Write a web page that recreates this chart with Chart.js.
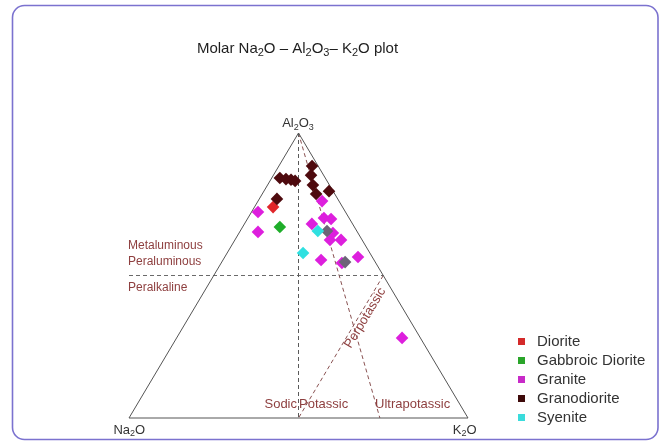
<!DOCTYPE html>
<html>
<head>
<meta charset="utf-8">
<script src="https://cdn.jsdelivr.net/npm/chart.js@4"></script>
<style>
  html, body { margin: 0; padding: 0; background: #fff; }
  #wrap { width: 666px; height: 442px; position: relative; }
</style>
</head>
<body>
<div id="wrap"><canvas id="c" width="666" height="442"></canvas></div>
<script>
// Rock groups shown in the legend
const categories = ['Diorite', 'Gabbroic Diorite', 'Granite', 'Granodiorite', 'Syenite'];

// Molar proportions, each sample as [Na2O, Al2O3, K2O] in %
const diorite = [[20.5, 74.0, 5.5]];
const gabbroicDiorite = [[22.0, 67.0, 11.0]];
const granite = [
  [25.8, 72.3, 1.9], [29.3, 65.3, 5.4], [5.0, 76.1, 18.9], [7.4, 70.2, 22.4],
  [5.5, 69.8, 24.7], [12.0, 68.1, 19.9], [9.5, 62.5, 28.1], [6.2, 62.5, 31.3],
  [7.4, 64.9, 27.7], [15.6, 55.4, 28.9], [10.0, 54.4, 35.6], [4.2, 56.5, 39.3],
  [5.4, 28.1, 66.5]
];
const granodiorite = [
  [13.4, 84.2, 2.4], [11.8, 83.9, 4.4], [10.4, 83.5, 6.0], [9.4, 83.2, 7.4],
  [1.8, 88.4, 9.8], [3.7, 85.3, 11.1], [4.9, 81.8, 13.4], [5.5, 78.6, 15.9],
  [1.2, 79.6, 19.2], [17.9, 76.8, 5.2], [8.8, 65.6, 25.6], [8.9, 54.7, 36.4]
];
// overlapping granodiorite samples that render with a greyish tint
const granodioriteGrey = [false, false, false, false, false, false, false, false, false, false, true, true];
const syenite = [[11.5, 65.6, 22.9], [19.7, 57.9, 22.4]];

// Classification boundaries, endpoints as [Na2O, Al2O3, K2O] in %
const naEqualsK = [[0, 100, 0], [50, 0, 50]];          // Sodic | Potassic
const alEqualsNaK = [[75, 50, -25], [0, 50, 50]];      // Metaluminous-Peraluminous | Peralkaline
const ultrapotassic = [[0, 100, 0], [26, 0, 74]];
const perpotassic = [[0, 50, 50], [50, 0, 50]];
const frame = [[100, 0, 0], [0, 0, 100], [0, 100, 0], [100, 0, 0]];

// ternary -> cartesian: x along the Na2O-K2O base, y = Al2O3 fraction
function toXY(t) {
  const s = t[0] + t[1] + t[2];
  const al = t[1] / s, k = t[2] / s;
  return { x: k + al / 2, y: al };
}

const colors = {
  'Diorite': '#e0262a',
  'Gabbroic Diorite': '#1fae2a',
  'Granite': '#dd1fdd',
  'Granodiorite': '#4e0a0e',
  'Syenite': '#2fe0e0'
};
const legendColors = {
  'Diorite': '#d42a2a',
  'Gabbroic Diorite': '#2aa52a',
  'Granite': '#c82ac8',
  'Granodiorite': '#3e0a0a',
  'Syenite': '#3adcdc'
};

const samples = [diorite, gabbroicDiorite, granite, granodiorite, syenite];

function lineSet(pts, color, dash, width) {
  return {
    type: 'line', data: pts.map(toXY), borderColor: color, borderWidth: width || 1,
    borderDash: dash, pointRadius: 0, fill: false, tension: 0, order: 10,
    isGuide: true
  };
}

const pointSets = categories.map((name, i) => ({
  type: 'scatter',
  label: name,
  data: samples[i].map(toXY),
  pointStyle: 'rectRot',
  pointRadius: 6.3,
  pointHoverRadius: 6.3,
  borderWidth: 0,
  backgroundColor: name === 'Granodiorite'
    ? granodioriteGrey.map(g => g ? '#6c6478' : colors[name])
    : colors[name],
  order: i === 3 ? 1 : (i === 4 ? 0 : 2)
}));

const datasets = [
  ...pointSets,
  lineSet(frame, '#555555', [], 1),
  lineSet(naEqualsK, '#5a5a5a', [4, 3], 1),
  lineSet(alEqualsNaK, '#6a6a6a', [4, 3], 1),
  lineSet(ultrapotassic, '#8a5252', [4, 3], 1),
  lineSet(perpotassic, '#8a5252', [4, 3], 1)
];

// draw text where "_n" makes n a subscript
function drawRich(ctx, str, x, y, align, size, color) {
  const parts = [];
  for (let i = 0; i < str.length; i++) {
    if (str[i] === '_' && i + 1 < str.length) { parts.push([str[i + 1], true]); i++; }
    else parts.push([str[i], false]);
  }
  const big = size + 'px "Liberation Sans", Arial, sans-serif';
  const small = Math.round(size * 0.72) + 'px "Liberation Sans", Arial, sans-serif';
  let w = 0;
  parts.forEach(p => { ctx.font = p[1] ? small : big; w += ctx.measureText(p[0]).width; });
  let cx = align === 'center' ? x - w / 2 : (align === 'right' ? x - w : x);
  ctx.fillStyle = color;
  ctx.textBaseline = 'middle';
  ctx.textAlign = 'left';
  parts.forEach(p => {
    ctx.font = p[1] ? small : big;
    ctx.fillText(p[0], cx, p[1] ? y + size * 0.3 : y);
    cx += ctx.measureText(p[0]).width;
  });
}

const decor = {
  id: 'decor',
  beforeDraw(chart) {
    const ctx = chart.ctx;
    ctx.save();
    ctx.fillStyle = '#ffffff';
    ctx.fillRect(0, 0, chart.width, chart.height);
    ctx.strokeStyle = '#7b72cf';
    ctx.lineWidth = 1.6;
    ctx.beginPath();
    ctx.roundRect(12.5, 5.5, 645.5, 434, 12);
    ctx.stroke();
    ctx.restore();
  },
  afterDraw(chart) {
    const ctx = chart.ctx;
    const X = v => chart.scales.x.getPixelForValue(v);
    const Y = v => chart.scales.y.getPixelForValue(v);
    ctx.save();
    // title and apex labels
    drawRich(ctx, 'Molar Na_2O \u2013 Al_2O_3\u2013 K_2O plot', X(0.497), Y(1.295), 'center', 15, '#1e1e1e');
    drawRich(ctx, 'Al_2O_3', X(0.4985), Y(1.032), 'center', 13, '#333333');
    drawRich(ctx, 'Na_2O', X(0.001), Y(-0.042), 'center', 13, '#333333');
    drawRich(ctx, 'K_2O', X(0.99), Y(-0.042), 'center', 13, '#333333');
    // field labels
    const fc = '#8e3f3f';
    drawRich(ctx, 'Metaluminous', X(-0.003), Y(0.6035), 'left', 12, fc);
    drawRich(ctx, 'Peraluminous', X(-0.003), Y(0.547), 'left', 12, fc);
    drawRich(ctx, 'Peralkaline', X(-0.003), Y(0.456), 'left', 12, fc);
    drawRich(ctx, 'Sodic', X(0.4956), Y(0.049), 'right', 13, fc);
    drawRich(ctx, 'Potassic', X(0.5015), Y(0.049), 'left', 13, fc);
    drawRich(ctx, 'Ultrapotassic', X(0.7257), Y(0.049), 'left', 13, fc);
    ctx.translate(X(0.697), Y(0.351));
    ctx.rotate(-59 * Math.PI / 180);
    drawRich(ctx, 'Perpotassic', 0, 0, 'center', 13, fc);
    ctx.restore();

    // legend
    ctx.save();
    chart.data.datasets.filter(d => !d.isGuide).forEach((d, i) => {
      const yy = 342 + i * 19;
      ctx.fillStyle = legendColors[d.label];
      ctx.fillRect(518, yy - 4, 7, 7);
      drawRich(ctx, d.label, 537, yy, 'left', 15, '#333333');
    });
    ctx.restore();
  }
};

new Chart(document.getElementById('c'), {
  type: 'scatter',
  data: { datasets },
  options: {
    responsive: false,
    animation: false,
    devicePixelRatio: 1,
    layout: { padding: 0, autoPadding: false },
    plugins: { legend: { display: false }, tooltip: { enabled: false }, title: { display: false } },
    scales: {
      x: { type: 'linear', display: false, min: -129 / 339, max: 537 / 339 },
      y: { type: 'linear', display: false, min: -24 / 285, max: 418 / 285 }
    }
  },
  plugins: [decor]
});
</script>
</body>
</html>
